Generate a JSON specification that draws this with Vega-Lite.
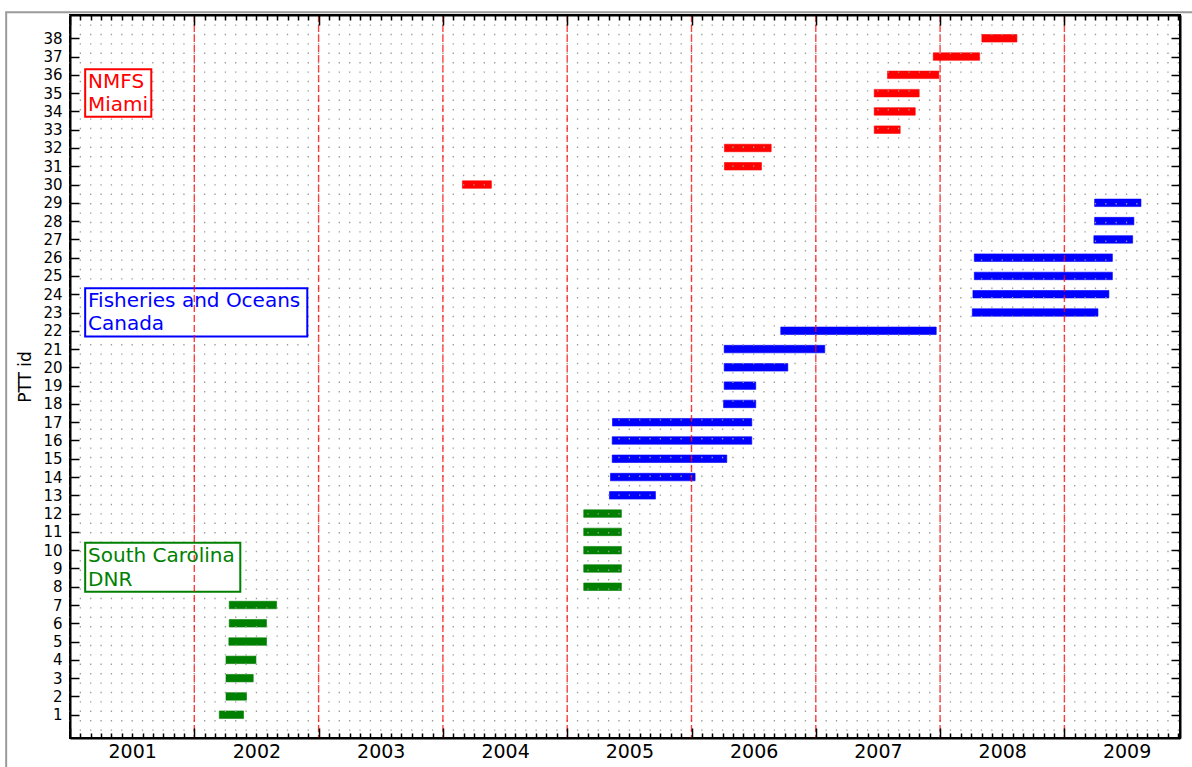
{
  "$schema": "https://vega.github.io/schema/vega-lite/v6.json",
  "width": 1110,
  "height": 723,
  "autosize": {"type": "none"},
  "padding": {"left": 70, "top": 15, "right": 12, "bottom": 29},
  "background": "white",
  "config": {
    "font": "DejaVu Sans",
    "view": {"stroke": "black", "strokeWidth": 2},
    "axis": {"labelFont": "DejaVu Sans", "titleFont": "DejaVu Sans", "labelColor": "black", "titleColor": "black", "domainColor": "black", "tickColor": "black", "domainWidth": 2, "tickWidth": 1.5, "labelFontSize": 15, "titleFontSize": 17, "titleFontWeight": "normal"}
  },
  "datasets": {
    "one": [{}],
    "months": [
      {"m": 2001.0}, {"m": 2001.0833}, {"m": 2001.1667}, {"m": 2001.25}, {"m": 2001.3333}, {"m": 2001.4167}, {"m": 2001.5}, {"m": 2001.5833}, {"m": 2001.6667}, {"m": 2001.75}, {"m": 2001.8333}, {"m": 2001.9167},
      {"m": 2002.0}, {"m": 2002.0833}, {"m": 2002.1667}, {"m": 2002.25}, {"m": 2002.3333}, {"m": 2002.4167}, {"m": 2002.5}, {"m": 2002.5833}, {"m": 2002.6667}, {"m": 2002.75}, {"m": 2002.8333}, {"m": 2002.9167},
      {"m": 2003.0}, {"m": 2003.0833}, {"m": 2003.1667}, {"m": 2003.25}, {"m": 2003.3333}, {"m": 2003.4167}, {"m": 2003.5}, {"m": 2003.5833}, {"m": 2003.6667}, {"m": 2003.75}, {"m": 2003.8333}, {"m": 2003.9167},
      {"m": 2004.0}, {"m": 2004.0833}, {"m": 2004.1667}, {"m": 2004.25}, {"m": 2004.3333}, {"m": 2004.4167}, {"m": 2004.5}, {"m": 2004.5833}, {"m": 2004.6667}, {"m": 2004.75}, {"m": 2004.8333}, {"m": 2004.9167},
      {"m": 2005.0}, {"m": 2005.0833}, {"m": 2005.1667}, {"m": 2005.25}, {"m": 2005.3333}, {"m": 2005.4167}, {"m": 2005.5}, {"m": 2005.5833}, {"m": 2005.6667}, {"m": 2005.75}, {"m": 2005.8333}, {"m": 2005.9167},
      {"m": 2006.0}, {"m": 2006.0833}, {"m": 2006.1667}, {"m": 2006.25}, {"m": 2006.3333}, {"m": 2006.4167}, {"m": 2006.5}, {"m": 2006.5833}, {"m": 2006.6667}, {"m": 2006.75}, {"m": 2006.8333}, {"m": 2006.9167},
      {"m": 2007.0}, {"m": 2007.0833}, {"m": 2007.1667}, {"m": 2007.25}, {"m": 2007.3333}, {"m": 2007.4167}, {"m": 2007.5}, {"m": 2007.5833}, {"m": 2007.6667}, {"m": 2007.75}, {"m": 2007.8333}, {"m": 2007.9167},
      {"m": 2008.0}, {"m": 2008.0833}, {"m": 2008.1667}, {"m": 2008.25}, {"m": 2008.3333}, {"m": 2008.4167}, {"m": 2008.5}, {"m": 2008.5833}, {"m": 2008.6667}, {"m": 2008.75}, {"m": 2008.8333}, {"m": 2008.9167},
      {"m": 2009.0}, {"m": 2009.0833}, {"m": 2009.1667}, {"m": 2009.25}, {"m": 2009.3333}, {"m": 2009.4167}, {"m": 2009.5}, {"m": 2009.5833}, {"m": 2009.6667}, {"m": 2009.75}, {"m": 2009.8333}, {"m": 2009.9167}
    ],
    "years": [{"yr": 2002}, {"yr": 2003}, {"yr": 2004}, {"yr": 2005}, {"yr": 2006}, {"yr": 2007}, {"yr": 2008}, {"yr": 2009}],
    "tags": [
      {"id": 1, "start": 2002.201, "end": 2002.396, "group": "South Carolina DNR"},
      {"id": 2, "start": 2002.255, "end": 2002.420, "group": "South Carolina DNR"},
      {"id": 3, "start": 2002.255, "end": 2002.474, "group": "South Carolina DNR"},
      {"id": 4, "start": 2002.255, "end": 2002.496, "group": "South Carolina DNR"},
      {"id": 5, "start": 2002.278, "end": 2002.581, "group": "South Carolina DNR"},
      {"id": 6, "start": 2002.281, "end": 2002.581, "group": "South Carolina DNR"},
      {"id": 7, "start": 2002.281, "end": 2002.662, "group": "South Carolina DNR"},
      {"id": 8, "start": 2005.133, "end": 2005.436, "group": "South Carolina DNR"},
      {"id": 9, "start": 2005.133, "end": 2005.436, "group": "South Carolina DNR"},
      {"id": 10, "start": 2005.133, "end": 2005.436, "group": "South Carolina DNR"},
      {"id": 11, "start": 2005.133, "end": 2005.436, "group": "South Carolina DNR"},
      {"id": 12, "start": 2005.133, "end": 2005.436, "group": "South Carolina DNR"},
      {"id": 13, "start": 2005.340, "end": 2005.710, "group": "Fisheries and Oceans Canada"},
      {"id": 14, "start": 2005.348, "end": 2006.029, "group": "Fisheries and Oceans Canada"},
      {"id": 15, "start": 2005.362, "end": 2006.284, "group": "Fisheries and Oceans Canada"},
      {"id": 16, "start": 2005.362, "end": 2006.485, "group": "Fisheries and Oceans Canada"},
      {"id": 17, "start": 2005.364, "end": 2006.485, "group": "Fisheries and Oceans Canada"},
      {"id": 18, "start": 2006.258, "end": 2006.517, "group": "Fisheries and Oceans Canada"},
      {"id": 19, "start": 2006.263, "end": 2006.517, "group": "Fisheries and Oceans Canada"},
      {"id": 20, "start": 2006.263, "end": 2006.775, "group": "Fisheries and Oceans Canada"},
      {"id": 21, "start": 2006.263, "end": 2007.072, "group": "Fisheries and Oceans Canada"},
      {"id": 22, "start": 2006.718, "end": 2007.969, "group": "Fisheries and Oceans Canada"},
      {"id": 23, "start": 2008.259, "end": 2009.270, "group": "Fisheries and Oceans Canada"},
      {"id": 24, "start": 2008.264, "end": 2009.358, "group": "Fisheries and Oceans Canada"},
      {"id": 25, "start": 2008.275, "end": 2009.386, "group": "Fisheries and Oceans Canada"},
      {"id": 26, "start": 2008.275, "end": 2009.386, "group": "Fisheries and Oceans Canada"},
      {"id": 27, "start": 2009.237, "end": 2009.549, "group": "Fisheries and Oceans Canada"},
      {"id": 28, "start": 2009.243, "end": 2009.559, "group": "Fisheries and Oceans Canada"},
      {"id": 29, "start": 2009.243, "end": 2009.616, "group": "Fisheries and Oceans Canada"},
      {"id": 30, "start": 2004.157, "end": 2004.390, "group": "NMFS Miami"},
      {"id": 31, "start": 2006.265, "end": 2006.563, "group": "NMFS Miami"},
      {"id": 32, "start": 2006.265, "end": 2006.641, "group": "NMFS Miami"},
      {"id": 33, "start": 2007.470, "end": 2007.679, "group": "NMFS Miami"},
      {"id": 34, "start": 2007.470, "end": 2007.800, "group": "NMFS Miami"},
      {"id": 35, "start": 2007.470, "end": 2007.832, "group": "NMFS Miami"},
      {"id": 36, "start": 2007.577, "end": 2007.990, "group": "NMFS Miami"},
      {"id": 37, "start": 2007.945, "end": 2008.318, "group": "NMFS Miami"},
      {"id": 38, "start": 2008.336, "end": 2008.618, "group": "NMFS Miami"}
    ]
  },
  "resolve": {"axis": {"x": "independent", "y": "independent"}},
  "layer": [
    {
      "data": {"name": "tags"},
      "mark": {"type": "bar", "size": 7.5, "strokeWidth": 1, "strokeOpacity": 0.6},
      "encoding": {
        "x": {
          "field": "start", "type": "quantitative",
          "scale": {"domain": [2001, 2009.93], "nice": false, "zero": false},
          "axis": {
            "orient": "bottom", "title": null, "grid": false,
            "values": [2001.0,2001.0833,2001.1667,2001.25,2001.3333,2001.4167,2001.5,2001.5833,2001.6667,2001.75,2001.8333,2001.9167,2002.0,2002.0833,2002.1667,2002.25,2002.3333,2002.4167,2002.5,2002.5833,2002.6667,2002.75,2002.8333,2002.9167,2003.0,2003.0833,2003.1667,2003.25,2003.3333,2003.4167,2003.5,2003.5833,2003.6667,2003.75,2003.8333,2003.9167,2004.0,2004.0833,2004.1667,2004.25,2004.3333,2004.4167,2004.5,2004.5833,2004.6667,2004.75,2004.8333,2004.9167,2005.0,2005.0833,2005.1667,2005.25,2005.3333,2005.4167,2005.5,2005.5833,2005.6667,2005.75,2005.8333,2005.9167,2006.0,2006.0833,2006.1667,2006.25,2006.3333,2006.4167,2006.5,2006.5833,2006.6667,2006.75,2006.8333,2006.9167,2007.0,2007.0833,2007.1667,2007.25,2007.3333,2007.4167,2007.5,2007.5833,2007.6667,2007.75,2007.8333,2007.9167,2008.0,2008.0833,2008.1667,2008.25,2008.3333,2008.4167,2008.5,2008.5833,2008.6667,2008.75,2008.8333,2008.9167,2009.0,2009.0833,2009.1667,2009.25,2009.3333,2009.4167,2009.5,2009.5833,2009.6667,2009.75,2009.8333,2009.9167],
            "labelExpr": "abs(datum.value - floor(datum.value) - 0.5) < 0.01 ? '' + floor(datum.value) : ''",
            "labelFontSize": 19, "labelPadding": 9, "labelFlush": false, "labelOverlap": false, "labelBound": false,
            "tickSize": {"condition": {"test": "datum.value - floor(datum.value) < 0.01", "value": -10}, "value": -5},
            "zindex": 1
          }
        },
        "x2": {"field": "end"},
        "y": {
          "field": "id", "type": "quantitative",
          "scale": {"domain": [0, 39], "nice": false, "zero": false},
          "axis": {
            "orient": "left", "title": "PTT id", "titleFontSize": 17, "titleFontWeight": "normal", "titlePadding": 8,
            "grid": false, "values": [1,2,3,4,5,6,7,8,9,10,11,12,13,14,15,16,17,18,19,20,21,22,23,24,25,26,27,28,29,30,31,32,33,34,35,36,37,38],
            "labelFontSize": 15, "labelPadding": 17, "tickSize": -9, "labelOverlap": false, "labelFlush": false, "zindex": 1
          }
        },
        "color": {
          "field": "group", "type": "nominal",
          "scale": {"domain": ["NMFS Miami", "Fisheries and Oceans Canada", "South Carolina DNR"], "range": ["#ff0000", "#0000ff", "#008000"]},
          "legend": null
        },
        "stroke": {"field": "group", "type": "nominal", "scale": {"domain": ["NMFS Miami", "Fisheries and Oceans Canada", "South Carolina DNR"], "range": ["#ff0000", "#0000ff", "#008000"]}, "legend": null}
      }
    },
    {
      "data": {"name": "months"},
      "mark": {"type": "rule", "color": "#9a9a9a", "strokeWidth": 1.3, "strokeDash": [1.4, 8.0]},
      "encoding": {"x": {"field": "m", "type": "quantitative", "axis": null}}
    },
    {
      "data": {"name": "one"},
      "mark": {"type": "rect", "fill": "white", "stroke": "#ff0000", "strokeWidth": 2},
      "encoding": {
        "x": {"datum": 2001.122, "type": "quantitative", "axis": null},
        "x2": {"datum": 2001.654},
        "y": {"datum": 36.30, "type": "quantitative", "axis": null},
        "y2": {"datum": 33.71}
      }
    },
    {
      "data": {"name": "one"},
      "mark": {"type": "rect", "fill": "white", "stroke": "#0000ff", "strokeWidth": 2},
      "encoding": {
        "x": {"datum": 2001.122, "type": "quantitative", "axis": null},
        "x2": {"datum": 2002.909},
        "y": {"datum": 24.33, "type": "quantitative", "axis": null},
        "y2": {"datum": 21.69}
      }
    },
    {
      "data": {"name": "one"},
      "mark": {"type": "rect", "fill": "white", "stroke": "#008000", "strokeWidth": 2},
      "encoding": {
        "x": {"datum": 2001.122, "type": "quantitative", "axis": null},
        "x2": {"datum": 2002.370},
        "y": {"datum": 10.41, "type": "quantitative", "axis": null},
        "y2": {"datum": 7.72}
      }
    },
    {
      "data": {"name": "years"},
      "mark": {"type": "rule", "color": "#ff0000", "strokeWidth": 1.4, "strokeDash": [7, 3], "opacity": 0.75},
      "encoding": {
        "x": {
          "field": "yr", "type": "quantitative",
          "axis": {
            "orient": "top", "title": null, "grid": false, "labels": false, "domain": true,
            "values": [2001.0,2001.0833,2001.1667,2001.25,2001.3333,2001.4167,2001.5,2001.5833,2001.6667,2001.75,2001.8333,2001.9167,2002.0,2002.0833,2002.1667,2002.25,2002.3333,2002.4167,2002.5,2002.5833,2002.6667,2002.75,2002.8333,2002.9167,2003.0,2003.0833,2003.1667,2003.25,2003.3333,2003.4167,2003.5,2003.5833,2003.6667,2003.75,2003.8333,2003.9167,2004.0,2004.0833,2004.1667,2004.25,2004.3333,2004.4167,2004.5,2004.5833,2004.6667,2004.75,2004.8333,2004.9167,2005.0,2005.0833,2005.1667,2005.25,2005.3333,2005.4167,2005.5,2005.5833,2005.6667,2005.75,2005.8333,2005.9167,2006.0,2006.0833,2006.1667,2006.25,2006.3333,2006.4167,2006.5,2006.5833,2006.6667,2006.75,2006.8333,2006.9167,2007.0,2007.0833,2007.1667,2007.25,2007.3333,2007.4167,2007.5,2007.5833,2007.6667,2007.75,2007.8333,2007.9167,2008.0,2008.0833,2008.1667,2008.25,2008.3333,2008.4167,2008.5,2008.5833,2008.6667,2008.75,2008.8333,2008.9167,2009.0,2009.0833,2009.1667,2009.25,2009.3333,2009.4167,2009.5,2009.5833,2009.6667,2009.75,2009.8333,2009.9167],
            "tickSize": {"condition": {"test": "datum.value - floor(datum.value) < 0.01", "value": -10}, "value": -5},
            "zindex": 1
          }
        }
      }
    },
    {
      "data": {"name": "one"},
      "mark": {"type": "text", "align": "left", "baseline": "middle", "fontSize": 20, "lineHeight": 23.5, "color": "#ff0000", "font": "DejaVu Sans"},
      "encoding": {
        "x": {"datum": 2001.145, "type": "quantitative", "axis": null},
        "y": {"datum": 35.62, "type": "quantitative", "axis": {"orient": "right", "title": null, "labels": false, "grid": false, "tickSize": -9, "values": [1,2,3,4,5,6,7,8,9,10,11,12,13,14,15,16,17,18,19,20,21,22,23,24,25,26,27,28,29,30,31,32,33,34,35,36,37,38], "zindex": 1}},
        "text": {"value": ["NMFS", "Miami"]}
      }
    },
    {
      "data": {"name": "one"},
      "mark": {"type": "text", "align": "left", "baseline": "middle", "fontSize": 20, "lineHeight": 23.5, "color": "#0000ff", "font": "DejaVu Sans"},
      "encoding": {
        "x": {"datum": 2001.145, "type": "quantitative", "axis": null},
        "y": {"datum": 23.64, "type": "quantitative", "axis": null},
        "text": {"value": ["Fisheries and Oceans", "Canada"]}
      }
    },
    {
      "data": {"name": "one"},
      "mark": {"type": "text", "align": "left", "baseline": "middle", "fontSize": 20, "lineHeight": 23.5, "color": "#008000", "font": "DejaVu Sans"},
      "encoding": {
        "x": {"datum": 2001.145, "type": "quantitative", "axis": null},
        "y": {"datum": 9.68, "type": "quantitative", "axis": null},
        "text": {"value": ["South Carolina", "DNR"]}
      }
    },
    {
      "data": {"name": "one"},
      "mark": {"type": "rect", "fill": null, "filled": false, "stroke": "#9a9a9a", "strokeWidth": 2, "clip": false},
      "encoding": {
        "x": {"datum": 2000.4865, "type": "quantitative", "axis": null},
        "x2": {"datum": 2010.3},
        "y": {"datum": 39.43, "type": "quantitative", "axis": null},
        "y2": {"datum": -3}
      }
    }
  ]
}
